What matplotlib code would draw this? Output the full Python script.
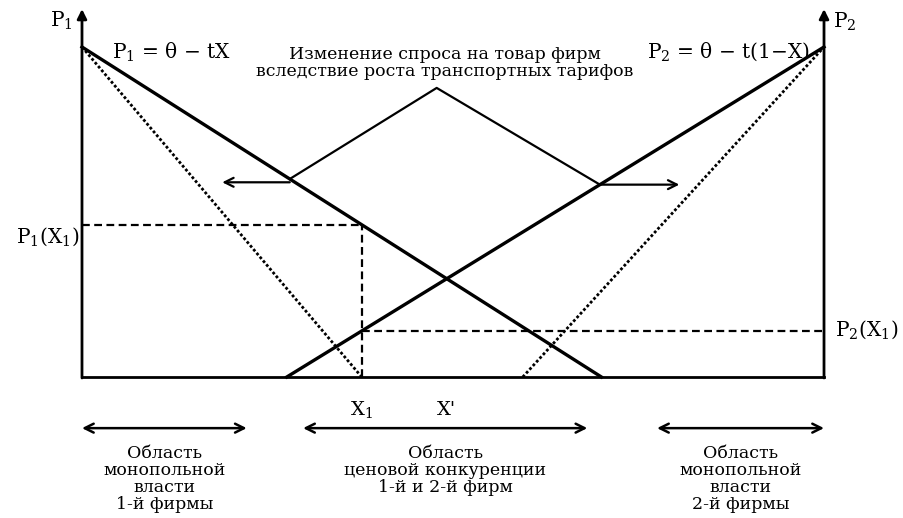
import numpy as np
import matplotlib.pyplot as plt

plt.rcParams['font.family'] = ['DejaVu Serif']
plt.rcParams['mathtext.fontset'] = 'dejavuserif'

# market segment [0, 1], prices scaled so that theta = 1
theta = 1.0
p1_zero = [0.70, 0.377]   # X where P1 = 0: before / after tariff growth
p2_zero = [0.276, 0.594]  # X where P2 = 0: before / after tariff growth
x1 = 0.377

# annotation: apex of the leader lines and arrow tips (X, P)
apex = (0.478, 0.876)
leader_ends = [0.28, 0.698]
shift_tips = [0.189, 0.805]

# regions shown below the axis
regions = [(0.0, 0.222), (0.298, 0.681), (0.775, 1.0)]
region_labels = ["Область\nмонопольной\nвласти\n1-й фирмы",
                 "Область\nценовой конкуренции\n1-й и 2-й фирм",
                 "Область\nмонопольной\nвласти\n2-й фирмы"]


def p1(x, z):
    return theta * (1 - x / z)


def p2(x, z):
    return theta * (1 - (1 - x) / (1 - z))


fig = plt.figure(figsize=(9.04, 5.18), dpi=100)
ax = fig.add_axes([0, 0, 1, 1])
ax.set_xlim(-0.1105, 1.1078)
ax.set_ylim(-0.4273, 1.1424)
ax.axis('off')

# axes of the model
ax.plot([0, 1], [0, 0], color='k', lw=2)
for xa in (0, 1):
    ax.annotate('', xy=(xa, 1.115), xytext=(xa, -0.003),
                arrowprops=dict(arrowstyle='-|>', lw=2, color='k',
                                mutation_scale=14, shrinkA=0, shrinkB=0))

# demand lines
styles = [dict(ls='-', lw=2.4), dict(ls=(0, (1, 0.8)), lw=2.0)]
for z, st in zip(p1_zero, styles):
    ax.plot([0, z], [theta, p1(z, z)], color='k', **st)
for z, st in zip(p2_zero, styles):
    ax.plot([z, 1], [p2(z, z), theta], color='k', **st)

# dashed guides at X1
py1 = p1(x1, p1_zero[0])
py2 = p2(x1, p2_zero[0])
dash = dict(color='k', lw=1.6, ls=(0, (3.5, 2)))
ax.plot([0, x1], [py1, py1], **dash)
ax.plot([x1, x1], [0, py1], **dash)
ax.plot([x1, 1], [py2, py2], **dash)

# intersection of the two solid lines -> X'
a, b = p1_zero[0], 1 - p2_zero[0]
x_prime = a / (a + b)

# leader lines and shift arrows
yl = p1(leader_ends[0], p1_zero[0])
yr = p2(leader_ends[1], p2_zero[0])
ax.plot([leader_ends[0], apex[0], leader_ends[1]], [yl, apex[1], yr],
        color='k', lw=1.6)
arr = dict(arrowstyle='->', lw=1.6, color='k', mutation_scale=16,
           shrinkA=0, shrinkB=0)
ax.annotate('', xy=(shift_tips[0], yl - 0.01),
            xytext=(leader_ends[0], yl - 0.01), arrowprops=arr)
ax.annotate('', xy=(shift_tips[1], yr),
            xytext=(leader_ends[1], yr), arrowprops=arr)

# text labels
fs = 14.5
ax.text(-0.012, 1.08, 'P$_1$', ha='right', va='center', fontsize=fs)
ax.text(1.012, 1.075, 'P$_2$', ha='left', va='center', fontsize=fs)
ax.text(0.04, 0.985, 'P$_1$ = θ − tX', ha='left', va='center', fontsize=fs)
ax.text(0.981, 0.985, 'P$_2$ = θ − t(1−X)', ha='right', va='center', fontsize=fs)
ax.text(-0.003, 0.424, 'P$_1$(X$_1$)', ha='right', va='center', fontsize=fs)
ax.text(1.015, 0.142, 'P$_2$(X$_1$)', ha='left', va='center', fontsize=fs)
ax.text(apex[0] + 0.011, 0.95,
        'Изменение спроса на товар фирм\nвследствие роста транспортных тарифов',
        ha='center', va='center', fontsize=12.5, linespacing=1.0)
ax.text(x1, -0.1, 'X$_1$', ha='center', va='center', fontsize=14)
ax.text(x_prime, -0.1, "X'", ha='center', va='center', fontsize=14)

# regions below
for (r0, r1), lab in zip(regions, region_labels):
    ax.annotate('', xy=(r1, -0.155), xytext=(r0, -0.155),
                arrowprops=dict(arrowstyle='<->', lw=1.8, color='k',
                                mutation_scale=16, shrinkA=0, shrinkB=0))
    ax.text((r0 + r1) / 2, -0.205, lab, ha='center', va='top',
            fontsize=12.5, linespacing=1.02)

fig.savefig('out.png', dpi=100)
